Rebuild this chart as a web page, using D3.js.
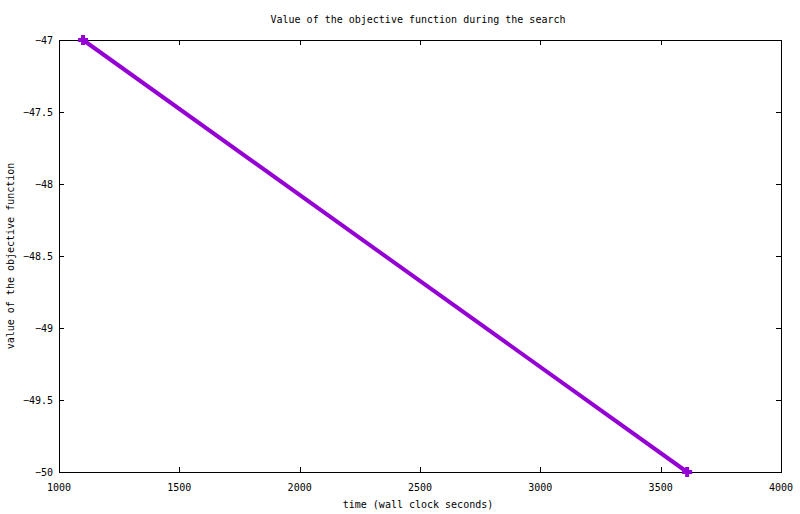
<!DOCTYPE html>
<html>
<head>
<meta charset="utf-8">
<script src="https://cdnjs.cloudflare.com/ajax/libs/d3/7.8.5/d3.min.js"></script>
<style>
  body { margin: 0; background: #fff; }
  text { font-family: "DejaVu Sans Mono", monospace; font-size: 10px; fill: #000; }
</style>
</head>
<body>
<svg id="chart" width="800" height="514"></svg>
<script>
// data
var times = [1100, 3610];
var objective = [-47, -50];
var xTicks = [1000, 1500, 2000, 2500, 3000, 3500, 4000];
var yTicks = [-47, -47.5, -48, -48.5, -49, -49.5, -50];

// plot box (note: "top" is reserved on window, so use other names)
var plotLeft = 59, plotRight = 781, plotTop = 40, plotBottom = 472;
var tick = 5;

var svg = d3.select("#chart");

var x = d3.scaleLinear().domain([1000, 4000]).range([plotLeft, plotRight]);
var y = d3.scaleLinear().domain([-50, -47]).range([plotBottom, plotTop]);

// frame
svg.append("rect")
	.attr("x", plotLeft + 0.5).attr("y", plotTop + 0.5)
	.attr("width", plotRight - plotLeft).attr("height", plotBottom - plotTop)
	.attr("fill", "none").attr("stroke", "#000").attr("stroke-width", 1);

// x ticks, bottom and mirrored on top
var gx = svg.append("g");
xTicks.forEach(function (t) {
	var px = Math.round(x(t)) + 0.5;
	gx.append("line").attr("x1", px).attr("x2", px)
		.attr("y1", plotBottom).attr("y2", plotBottom - tick).attr("stroke", "#000");
	gx.append("line").attr("x1", px).attr("x2", px)
		.attr("y1", plotTop).attr("y2", plotTop + tick).attr("stroke", "#000");
	gx.append("text").attr("x", x(t)).attr("y", 491)
		.attr("text-anchor", "middle").text(t);
});

// y ticks, left and mirrored on right
var gy = svg.append("g");
yTicks.forEach(function (t) {
	var py = Math.round(y(t)) + 0.5;
	gy.append("line").attr("x1", plotLeft).attr("x2", plotLeft + tick)
		.attr("y1", py).attr("y2", py).attr("stroke", "#000");
	gy.append("line").attr("x1", plotRight).attr("x2", plotRight - tick)
		.attr("y1", py).attr("y2", py).attr("stroke", "#000");
	gy.append("text").attr("x", 53).attr("y", y(t) + 4)
		.attr("text-anchor", "end").text(String(t).replace("-", "\u2212"));
});

// titles
svg.append("text").attr("x", 418).attr("y", 23)
	.attr("text-anchor", "middle").text("Value of the objective function during the search");
svg.append("text").attr("x", 418).attr("y", 508)
	.attr("text-anchor", "middle").text("time (wall clock seconds)");
svg.append("text")
	.attr("transform", "translate(14," + ((plotTop + plotBottom) / 2) + ") rotate(-90)")
	.attr("text-anchor", "middle").text("value of the objective function");

// series
var pts = times.map(function (t, i) { return [t, objective[i]]; });
var line = d3.line()
	.x(function (d) { return x(d[0]); })
	.y(function (d) { return y(d[1]); });

svg.append("path")
	.datum(pts)
	.attr("d", line)
	.attr("fill", "none")
	.attr("stroke", "#9400d3")
	.attr("stroke-width", 4);

svg.selectAll("path.pt")
	.data(pts)
	.enter()
	.append("path")
	.attr("class", "pt")
	.attr("d", function (d) {
		var cx = x(d[0]), cy = y(d[1]), r = 5;
		return "M" + (cx - r) + "," + cy + "H" + (cx + r) + "M" + cx + "," + (cy - r) + "V" + (cy + r);
	})
	.attr("stroke", "#9400d3")
	.attr("stroke-width", 4)
	.attr("fill", "none");
</script>
</body>
</html>
